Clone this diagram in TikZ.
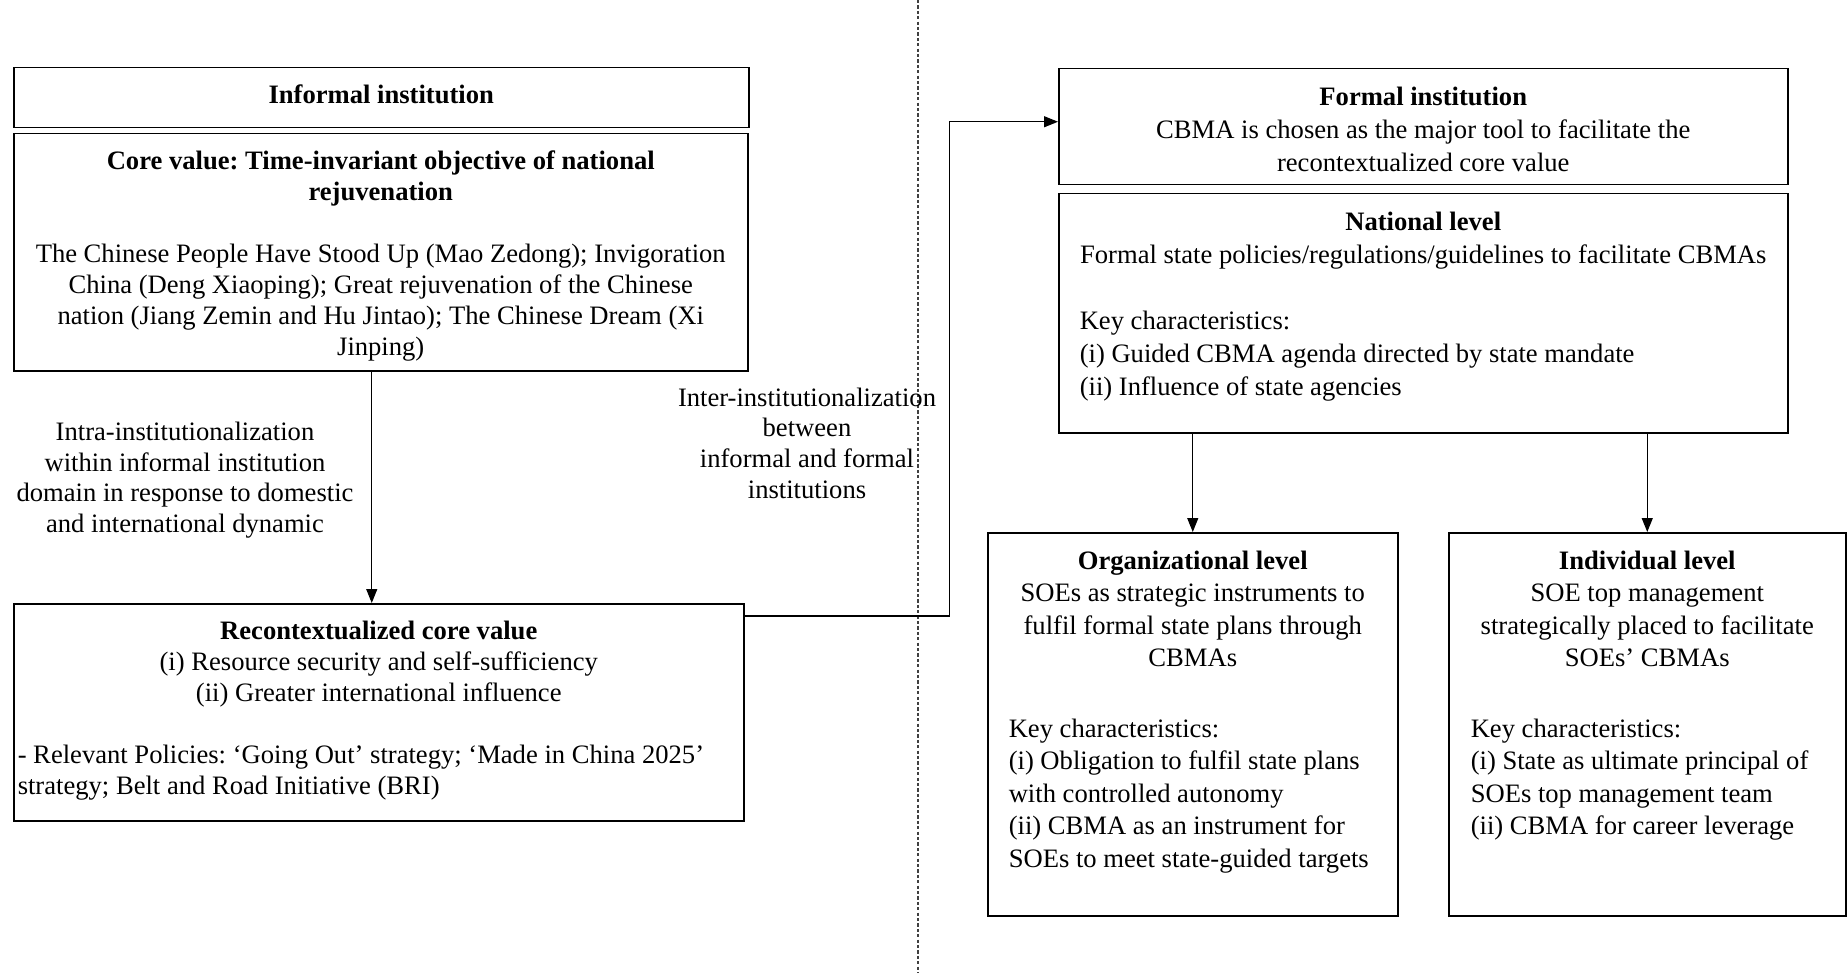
\documentclass[tikz,border=0pt]{standalone}
\usepackage{fontspec}
\setmainfont{Liberation Serif}
\usetikzlibrary{arrows.meta,calc}
\frenchspacing
\newcommand\mybox[4]{\parbox[t][#2][t]{#1}{\fontsize{13.3pt}{#3}\selectfont\frenchspacing\vspace*{6.8pt}#4}}
\newcommand\cln[1]{\makebox[\linewidth][c]{\strut #1}\par}
\newcommand\lfn[1]{\makebox[\linewidth][l]{\strut #1}\par}
\newcommand\gap{\vspace{\baselineskip}}
\newcommand\biggap{\vspace{\dimexpr\baselineskip+2.5pt\relax}}
\tikzset{
  box/.style={draw, line width=0.75pt, inner ysep=0pt, anchor=north west},
  lbl/.style={align=center, inner sep=0pt, font=\fontsize{13.3pt}{15.3pt}\selectfont},
  arr/.style={line width=0.6pt, -{Triangle[length=7pt,width=5.5pt]}},
  conn/.style={line width=0.6pt},
  dashline/.style={line width=0.6pt, draw=black!75, dash pattern=on 1.6pt off 1.1pt}
}
\begin{document}
\begin{tikzpicture}[x=0.5pt,y=-0.5pt]
\useasboundingbox (0,0) rectangle (1847,973);
% dashed divider
\coordinate (dtop) at (918,0);
\coordinate (dbot) at (918,973);
\draw[dashline] (dtop) -- (dbot);

% left column
\node[box, inner xsep=4pt] (informal) at (13,67)
  {\mybox{359.5pt}{30pt}{15.5pt}{\cln{\textbf{Informal institution}}}};
\node[box, inner xsep=4pt] (core) at (13,133)
  {\mybox{359pt}{118.5pt}{15.5pt}{%
   \cln{\textbf{Core value: Time-invariant objective of national}}%
   \cln{\textbf{rejuvenation}}\gap
   \cln{The Chinese People Have Stood Up (Mao Zedong); Invigoration}%
   \cln{China (Deng Xiaoping); Great rejuvenation of the Chinese}%
   \cln{nation (Jiang Zemin and Hu Jintao); The Chinese Dream (Xi}%
   \cln{Jinping)}}};
\node[box, inner xsep=2pt] (rec) at (13,603)
  {\mybox{361pt}{108.5pt}{15.5pt}{%
   \cln{\textbf{Recontextualized core value}}%
   \cln{(i) Resource security and self-sufficiency}%
   \cln{(ii) Greater international influence}\gap
   \lfn{- Relevant Policies: ‘Going Out’ strategy; ‘Made in China 2025’}%
   \lfn{strategy; Belt and Road Initiative (BRI)}}};

\node[lbl] (intra) at (185,480) {Intra-institutionalization\\within informal institution\\domain in response to domestic\\and international dynamic};
\node[lbl] (inter) at (807,443) {Inter-institutionalization\\between\\informal and formal\\institutions};

% right column
\node[box, inner xsep=10.5pt] (formal) at (1058,68)
  {\mybox{343.5pt}{58pt}{16.5pt}{%
   \cln{\textbf{Formal institution}}%
   \cln{CBMA is chosen as the major tool to facilitate the}%
   \cln{recontextualized core value}}};
\node[box, inner xsep=10.5pt] (nat) at (1058,193)
  {\mybox{343.5pt}{119.5pt}{16.5pt}{%
   \cln{\textbf{National level}}%
   \cln{Formal state policies/regulations/guidelines to facilitate CBMAs}\gap
   \lfn{Key characteristics:}%
   \lfn{(i) Guided CBMA agenda directed by state mandate}%
   \lfn{(ii) Influence of state agencies}}};
\node[box, inner xsep=10.5pt] (org) at (987,532)
  {\mybox{184pt}{191.5pt}{16.3pt}{%
   \cln{\textbf{Organizational level}}%
   \cln{SOEs as strategic instruments to}%
   \cln{fulfil formal state plans through}%
   \cln{CBMAs}\biggap
   \lfn{Key characteristics:}%
   \lfn{(i) Obligation to fulfil state plans}%
   \lfn{with controlled autonomy}%
   \lfn{(ii) CBMA as an instrument for}%
   \lfn{SOEs to meet state-guided targets}}};
\node[box, inner xsep=11pt] (ind) at (1448,532)
  {\mybox{176.5pt}{191.5pt}{16.3pt}{%
   \cln{\textbf{Individual level}}%
   \cln{SOE top management}%
   \cln{strategically placed to facilitate}%
   \cln{SOEs’ CBMAs}\biggap
   \lfn{Key characteristics:}%
   \lfn{(i) State as ultimate principal of}%
   \lfn{SOEs top management team}%
   \lfn{(ii) CBMA for career leverage}}};

% connectors
\draw[arr] ([xshift=-4.5pt]core.south) -- ([xshift=-4.5pt]core.south |- rec.north);
\draw[arr] ([yshift=-6.5pt]rec.north east) -- ++(205,0) |- ([yshift=2.5pt]formal.west);
\draw[arr] (org.north |- nat.south) -- (org.north);
\draw[arr] (ind.north |- nat.south) -- (ind.north);
\end{tikzpicture}
\end{document}
